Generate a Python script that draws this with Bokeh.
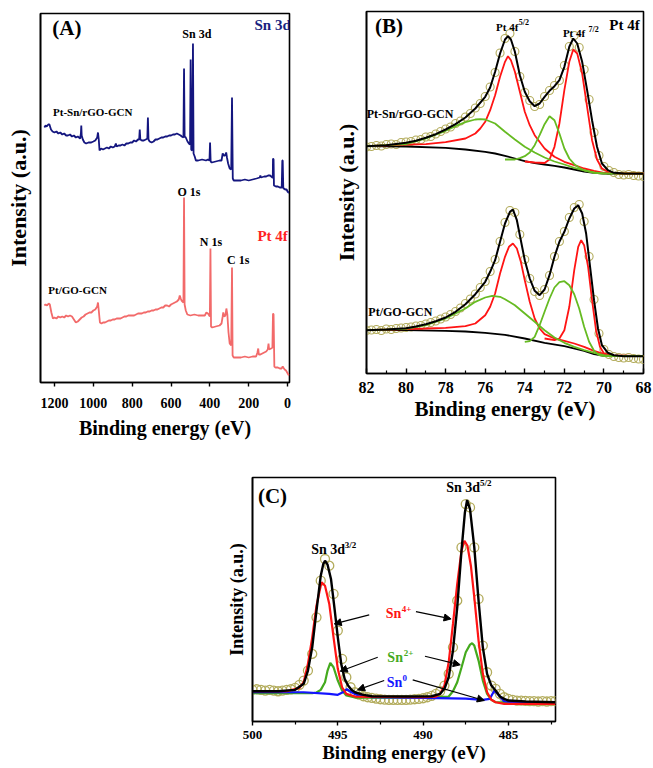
from bokeh.plotting import figure
from bokeh.models import Range1d, FixedTicker, Label, Arrow, NormalHead, Spacer
from bokeh.layouts import row, column
from bokeh.embed import file_html
from bokeh.resources import INLINE

FONT = "Liberation Serif"

# ---------------- Panel A: survey spectra (binding energy eV, intensity a.u.) ----------------
survey_ptsn = [(1252,255),(1246,257),(1240,256),(1232,258),(1226,258),(1218,253),(1210,251),(1200,250),(1190,251),(1180,249),
 (1170,250),(1160,248),(1150,249),(1140,247),(1131,247),(1120,248),(1110,246),(1100,247),(1090,245),(1080,246),(1068,244),
 (1064,249),(1062,257),(1060,247),(1054,243),(1046,240),(1037,239),(1025,240),(1011,240),(1000,241),(990,242),(980,245),
 (976,250),(972,243),(968,232),(960,234),(950,233),(940,234),(930,235),(920,234),(910,236),(900,235),(890,236),(884,239),
 (880,236),(870,237),(860,237),(850,238),(840,237),(830,239),(820,239),(810,240),(800,240),(790,242),(780,241),(770,243),
 (764,243),(761,253),(758,243),(750,242),(740,242),(730,243),(722,244),(719,265),(716,243),(710,241),(700,240),(690,241),
 (680,243),(670,243),(660,244),(650,245),(640,245),(630,246),(620,246),(610,247),(600,247),(590,248),(580,248),(570,249),
 (560,248),(550,247),(545,246),(536,245),(533,314),(530,246),(524,245),(515,241),(508,239),(502,238),(499,323),(496,233),
 (491,232),(487,339),(484,229),(478,226),(472,222),(460,222),(440,223),(420,222),(410,223),(402,222),(399,240),(396,221),
 (390,220),(370,221),(350,222),(340,222),(334,229),(328,227),(322,227),(316,230),(312,225),(306,219),(298,214),(290,213),
 (286,285),(282,204),(277,202),(260,202),(240,202),(220,203),(200,202),(180,203),(160,204),(143,205),(140,207),(137,205),
 (120,206),(110,206),(100,207),(90,207),(84,206),(78,205),(76,205),(75,224),(72,223),(70,197),(60,196),(50,196),(40,195),
 (30,195),(27,222),(25,222),(22,194),(18,194),(12,193),(5,193),(0,191),(-5,190),(-7,190)]

survey_ptgo = [(1252,77),(1246,78),(1238,77),(1230,79),(1224,78),(1216,70),(1208,64),(1200,65),(1190,64),(1180,66),(1170,65),
 (1160,66),(1150,65),(1140,67),(1130,66),(1120,67),(1110,66),(1100,63),(1090,60),(1080,61),(1070,63),(1060,65),(1050,66),
 (1040,68),(1030,69),(1020,70),(1010,70),(1000,72),(990,73),(980,76),(976,80),(972,72),(966,60),(958,59),(950,60),(940,60),
 (930,61),(920,62),(910,62),(900,63),(890,63),(880,64),(870,64),(860,64),(850,65),(840,66),(830,66),(820,67),(810,67),
 (800,67),(790,67),(780,68),(770,69),(760,69),(750,69),(740,70),(730,70),(720,71),(710,71),(700,72),(690,72),(680,73),
 (670,73),(660,74),(650,75),(640,75),(630,77),(620,77),(610,76),(600,78),(590,79),(580,80),(570,81),(560,83),(555,87),
 (550,84),(546,82),(536,80),(533,185),(530,78),(524,72),(516,68),(500,67),(480,68),(460,67),(440,67),(426,67),(418,70),
 (410,69),(400,66),(397,134),(394,56),(388,55),(370,56),(350,57),(340,59),(334,66),(331,70),(326,66),(320,67),(315,74),
 (310,68),(304,50),(298,39),(290,37),(286,115),(283,27),(277,25),(260,25),(240,25),(220,26),(200,25),(180,26),(162,26),
 (155,30),(151,34),(148,28),(140,28),(130,29),(120,30),(110,31),(102,33),(98,39),(95,33),(85,34),(78,35),(75,69),(72,68),
 (68,16),(62,15),(50,15),(40,14),(31,14),(25,16),(22,15),(15,13),(8,12),(2,10),(-4,8),(-7,7)]

survey_ticks = [0, 200, 400, 600, 800, 1000, 1200]

# ---------------- Panel B: Pt 4f ----------------
ptsn_data = [(82,226.5),(81.75,227),(81.5,228),(81.25,227.5),(81,229),(80.75,229.5),(80.5,229),(80.25,231),(80,231.5),
 (79.75,232),(79.5,233.5),(79.25,234),(79,236.5),(78.75,237),(78.5,239.5),(78.25,242),(78,244.5),(77.75,246.5),(77.5,250),
 (77.25,252.5),(77,256.5),(76.75,260),(76.5,265.5),(76.25,270),(76,277),(75.75,286.5),(75.5,301),(75.25,320.5),(75,335),
 (74.75,340),(74.5,322),(74.25,297),(74,281),(73.75,273),(73.5,267),(73.25,269),(73,277),(72.75,283),(72.5,288),(72.25,293),
 (72,308),(71.75,327),(71.5,338),(71.25,326),(71,304),(70.75,274),(70.5,241),(70.25,218),(70,207),(69.75,203),(69.5,201),
 (69.25,199),(69,198.5),(68.75,199),(68.5,198),(68.25,197.5),(68,197)]
ptsn_env = [(82,227.3),(81,228.3),(80,230.7),(79.5,232.7),(79,235.7),(78.5,239.3),(78,244),(77.5,249.3),(77,256),(76.5,265),
 (76,276.7),(75.75,286),(75.5,301.7),(75.25,320),(75,334),(74.85,337.3),(74.7,334),(74.5,321.7),(74.25,298.3),(74,281.7),
 (73.75,272.3),(73.5,267.3),(73.25,270),(73,276.7),(72.75,282.7),(72.5,287.3),(72.25,293.3),(72,306.7),(71.75,326.7),
 (71.55,335),(71.35,330),(71.1,311.7),(70.85,283.3),(70.6,253.3),(70.35,226.7),(70.1,210),(69.8,203.3),(69.5,200.7),
 (69,200),(68,199.7)]
ptsn_bg = [(82,227.3),(80,227),(78,225.7),(77,224),(76,221.7),(75.5,220),(75,217.7),(74.5,215),(74,212.3),(73.5,210.3),
 (73,209),(72.5,207.7),(72,206),(71.5,204),(71,202),(70.5,200.7),(70,200),(68,200)]
ptsn_red1 = [(82,227.3),(80,229),(79,229.3),(78,231.3),(77,235),(76.5,240),(76.25,245),(76,251.7),(75.75,263.3),(75.5,278.3),
 (75.25,296.7),(75,311.7),(74.85,317.3),(74.7,313.3),(74.5,301.7),(74.25,281.7),(74,261.7),(73.75,248.3),(73.5,238.3),
 (73,225),(72.5,216.7),(72,211.7),(71.5,208.3),(71,205),(70.5,202.7),(70,200.7),(69,200),(68,200)]
ptsn_red2 = [(74,212),(73.5,211),(73,210.5),(72.75,214),(72.5,226.7),(72.25,250),(72,283.3),(71.75,311.7),(71.55,324),
 (71.35,320),(71.1,300),(70.85,266.7),(70.6,233.3),(70.35,214),(70.1,205),(69.8,201.7),(69.5,200.3),(69,200),(68,200)]
ptsn_green1 = [(82,227.3),(80,229.3),(79,235),(78,242.7),(77.5,247.3),(77,251.3),(76.5,254),(76.25,254.3),(76,254),(75.5,250),
 (75,241.7),(74.5,234),(74,226.7),(73.5,221),(73,216),(72.5,212),(72,209),(71.5,205.7),(71,203),(70.5,201),(70,200),(68,200)]
ptsn_green2 = [(75,214),(74.5,214),(74.25,215.3),(74,217.3),(73.75,221),(73.5,228.3),(73.25,238.3),(73,249.3),(72.75,257.3),
 (72.5,253.3),(72.25,240),(72,225),(71.75,215),(71.5,209.3),(71.25,205.7),(71,203.3),(70.5,200.7),(70,200)]

ptgo_data = [(82,43),(81.75,43.5),(81.5,44),(81.25,43),(81,44.5),(80.75,44),(80.5,45),(80.25,45.5),(80,46),(79.75,46.5),
 (79.5,47.5),(79.25,48),(79,49.5),(78.75,51),(78.5,52.5),(78.25,54.5),(78,56.5),(77.75,59),(77.5,62),(77.25,65.5),(77,70),
 (76.75,74.5),(76.5,79.5),(76.25,86),(76,92),(75.75,102),(75.5,114),(75.25,132),(75,151),(74.75,163),(74.5,161),(74.25,139),
 (74,114),(73.75,95),(73.5,82),(73.25,78),(73,84),(72.75,98),(72.5,117),(72.25,132),(72,142),(71.75,156),(71.5,166),
 (71.25,169),(71,152),(70.75,117),(70.5,74),(70.25,40),(70,24),(69.75,19),(69.5,17),(69.25,16),(69,15.5),(68.75,16),
 (68.5,15),(68.25,14.5),(68,14)]
ptgo_env = [(82,43.3),(81,44),(80,45.3),(79.5,47),(79,49.3),(78.5,52.3),(78,56),(77.5,61.7),(77,69.3),(76.5,79.3),(76,91.7),
 (75.75,101.7),(75.5,113.3),(75.25,131.7),(75,150),(74.75,161.7),(74.6,164),(74.4,153.3),(74.2,133.3),(74,113.3),(73.75,95),
 (73.5,82.7),(73.25,78.3),(73,84),(72.75,98.3),(72.5,116.7),(72.25,131.7),(72,141.7),(71.75,155),(71.5,165),(71.3,168.3),
 (71.1,160),(70.9,140),(70.7,106.7),(70.5,73.3),(70.3,45),(70.1,28.3),(69.8,20.7),(69.5,18.3),(69,17.3),(68,17.3)]
ptgo_bg = [(82,43.3),(80,43.3),(78,42.7),(77,42),(76,40.7),(75,38.7),(74,35),(73,30.7),(72,27.3),(71,22.7),(70.5,19.3),
 (70,17.7),(68,17.3)]
ptgo_red1 = [(82,43.3),(79,45),(78,45.7),(77,47.3),(76.5,50),(76,58.3),(75.75,66.7),(75.5,80),(75.25,100),(75,116.7),
 (74.8,126.7),(74.6,130),(74.4,125),(74.2,111.7),(74,93.3),(73.75,71.7),(73.5,55),(73.25,45),(73,39.3),(72.5,35),(72,32.7),
 (71.5,30),(71,26.7),(70.5,22.7),(70,19.3),(69.5,18),(68,17.3)]
ptgo_red2 = [(73,35),(72.5,33.3),(72.25,35),(72,43.3),(71.75,66.7),(71.5,103.3),(71.3,126.7),(71.15,133.3),(71,128.3),
 (70.8,106.7),(70.6,73.3),(70.4,43.3),(70.2,26.7),(70,20),(69.5,17.7),(68,17.3)]
ptgo_green1 = [(82,43.3),(80,44.7),(79,48.3),(78,55),(77.5,60),(77,65),(76.5,71.7),(76,76),(75.65,77.7),(75.25,76.7),
 (75,74.3),(74.5,68.3),(74,60),(73.5,51.7),(73,43.3),(72.5,36),(72,30.7),(71.5,26.7),(71,23.3),(70.5,20.7),(70,18.3),
 (69.5,17.3),(68,17.3)]
ptgo_green2 = [(74,31.7),(73.75,32.3),(73.5,36.7),(73.25,48.3),(73,61.7),(72.75,75),(72.5,86),(72.25,91.3),(72,92.3),
 (71.75,88.3),(71.5,79.3),(71.25,65),(71,46.7),(70.75,31.7),(70.5,22.7),(70.25,18.3),(70,17.3),(68,17.3)]

pt4f_ticks = [68, 70, 72, 74, 76, 78, 80, 82]
pt4f_minor = [69, 71, 73, 75, 77, 79, 81]

# ---------------- Panel C: Sn 3d ----------------
sn_data = [(500,31.7),(499.75,32.3),(499.5,31.7),(499.25,31),(499,31.7),(498.75,31),(498.5,30.3),(498.25,31),(498,31.7),
 (497.75,32.3),(497.5,33.7),(497.25,36.7),(497,41),(496.75,51),(496.5,67.7),(496.25,104.3),(496,141),(495.75,162.7),
 (495.5,156),(495.25,127.7),(495,91),(494.75,62.7),(494.5,44.3),(494.25,34.3),(494,29.3),(493.75,27),(493.5,25.3),
 (493.25,24.3),(493,23.7),(492.75,23),(492.5,22.3),(492.25,22),(492,21.7),(491.75,21.7),(491.5,21.7),(491.25,21.7),
 (491,21.7),(490.75,22),(490.5,22.3),(490.25,22.7),(490,23.3),(489.75,24.3),(489.5,25.7),(489.25,27.7),(489,30.3),
 (488.75,36),(488.5,47.7),(488.25,74.3),(488,121),(487.75,174.3),(487.5,217.7),(487.25,214.3),(487,174.3),(486.75,122.7),
 (486.5,76),(486.25,49.3),(486,36),(485.75,32.7),(485.5,27.7),(485.25,24.3),(485,22.7),(484.75,21.7),(484.5,21),
 (484.25,21),(484,20.7),(483.75,20.3),(483.5,20.3),(483.25,20),(483,20.3),(482.75,20),(482.5,20.3),(482.25,20.3)]
sn_env = [(500,30.3),(498.5,30.3),(497.5,31.7),(497,37.7),(496.75,51),(496.5,74.3),(496.25,111),(496,146),(495.85,157.7),
 (495.75,161),(495.6,157),(495.4,142.7),(495.2,114.3),(495,84.3),(494.8,57.7),(494.6,42.7),(494.4,36),(494.2,31.7),
 (494,29.3),(493.5,26.7),(493,25.3),(491,25),(489.5,25.3),(489,27.7),(488.75,32.7),(488.5,44.3),(488.25,71),(488,114.3),
 (487.75,171),(487.55,209.3),(487.42,221.7),(487.25,212.7),(487,174.3),(486.75,121),(486.5,74.3),(486.25,47.7),(486,36),
 (485.75,31),(485.5,25),(485.25,22.7),(485,21),(484,20),(482.25,19.3)]
sn4_fit = [(500,30.3),(498,30.3),(497.25,33.7),(497,39.3),(496.75,57.7),(496.5,84.3),(496.25,116),(496,136),(495.95,139.3),
 (495.75,136),(495.5,117.7),(495.25,84.3),(495,52.7),(494.75,34.3),(494.5,27.7),(494,25),(490,24.3),(489.25,25),(489,27.7),
 (488.75,36),(488.5,59.3),(488.25,97.7),(488,137.7),(487.75,171),(487.58,181),(487.4,176),(487.2,156),(487,124.3),
 (486.75,81),(486.5,47.7),(486.25,29.3),(486,21.7),(485.75,19.3),(485.25,17.7),(482.25,17.7)]
sn2_fit = [(500,28.3),(496.5,28.3),(496.25,29),(496,31.7),(495.75,39.3),(495.6,51),(495.44,58.7),(495.25,54.3),(495,41),
 (494.75,31),(494.5,26),(494,24),(490,23.7),(488.5,25),(488.25,30.3),(488,39.3),(487.75,54),(487.5,69.3),(487.25,77),
 (487.13,78.3),(487,76),(486.75,61),(486.5,41),(486.25,27.7),(486,21.7),(485.75,19.3),(482.25,18.7)]
sn0_fit = [(500,29.3),(497,29.3),(495.5,27.7),(495,26.7),(494.7,29.3),(494.47,32.3),(494.2,29.3),(493.8,26),(493,24.3),
 (490,23.7),(487.5,23),(486.5,21.7),(486.1,22.7),(485.82,31),(485.55,26),(485.25,20.3),(484.5,18.7),(482.25,18.3)]

sn3d_ticks = [485, 490, 495, 500]
sn3d_minor = [482.5, 487.5, 492.5, 497.5]


def pts(series):
    return [a for a, b in series], [b for a, b in series]


def make_fig(w, h, xr, yr, mb):
    p = figure(width=w, height=h, x_range=Range1d(*xr), y_range=Range1d(*yr),
               output_backend="svg", toolbar_location=None,
               min_border_left=mb[0], min_border_right=mb[1],
               min_border_top=mb[2], min_border_bottom=mb[3])
    p.frame_align = False
    p.grid.visible = False
    p.outline_line_color = "black"
    p.outline_line_width = 1.6
    p.outline_line_alpha = 1.0
    p.background_fill_color = "white"
    p.border_fill_color = "white"
    return p


def style_axes(p, ticks, minor, tick_size, xlab_size, ylab_size, tick_in, tick_out,
               minor_in, minor_out, tick_standoff, xlab_standoff, ylab_standoff):
    xa = p.xaxis[0]
    xa.ticker = FixedTicker(ticks=ticks, minor_ticks=minor)
    xa.axis_label = "Binding energy (eV)"
    xa.axis_label_text_font = FONT
    xa.axis_label_text_font_style = "bold"
    xa.axis_label_text_font_size = xlab_size
    xa.axis_label_text_color = "black"
    xa.axis_label_standoff = xlab_standoff
    xa.major_label_text_font = FONT
    xa.major_label_text_font_style = "bold"
    xa.major_label_text_font_size = tick_size
    xa.major_label_text_color = "black"
    xa.major_label_standoff = tick_standoff
    xa.major_tick_in = tick_in
    xa.major_tick_out = tick_out
    xa.minor_tick_in = minor_in
    xa.minor_tick_out = minor_out
    xa.axis_line_width = 1.6
    xa.major_tick_line_width = 1.4
    xa.minor_tick_line_width = 1.2
    ya = p.yaxis[0]
    ya.ticker = FixedTicker(ticks=[], minor_ticks=[])
    ya.axis_label = "Intensity (a.u.)"
    ya.axis_label_text_font = FONT
    ya.axis_label_text_font_style = "bold"
    ya.axis_label_text_font_size = ylab_size
    ya.axis_label_text_color = "black"
    ya.axis_label_standoff = ylab_standoff
    ya.major_label_standoff = 0
    ya.major_tick_in = 0
    ya.major_tick_out = 0
    ya.minor_tick_in = 0
    ya.minor_tick_out = 0
    ya.axis_line_width = 1.6


def label(p, x, y, text, size, color="black", align="center"):
    p.add_layout(Label(x=x, y=y, text=text, text_font=FONT, text_font_size=size,
                       text_font_style="bold", text_color=color, text_align=align,
                       text_baseline="middle"))


# ---------------- Figure A ----------------
pA = make_fig(330, 453, (1272, -10), (0, 369), (40, 41, 13, 71))
style_axes(pA, survey_ticks, [], "14px", "20px", "22px", 0, 4, 0, 0, 11, 6, 10)
x, y = pts(survey_ptsn)
pA.line(x, y, line_color="#14167f", line_width=1.8)
x, y = pts(survey_ptgo)
pA.line(x, y, line_color="#f26a6a", line_width=1.8)
label(pA, 1136, 355, "(A)", "21px")
label(pA, 77, 358, "Sn 3d", "15px", "#1a1f80")
label(pA, 467, 349, "Sn 3d", "12px")
label(pA, 1003, 271, "Pt-Sn/rGO-GCN", "11px")
label(pA, 508, 191, "O 1s", "12px")
label(pA, 394, 141, "N 1s", "12px")
label(pA, 77, 147, "Pt 4f", "15px", "#ff2222")
label(pA, 254, 123, "C 1s", "12px")
label(pA, 1081, 93, "Pt/GO-GCN", "11px")

# ---------------- Figure B ----------------
pB = make_fig(323, 453, (82, 68), (0, 362), (36, 10, 11, 80))
style_axes(pB, pt4f_ticks, pt4f_minor, "16px", "21px", "22px", 5, 0, 3, 0, 8, 1, 8)
RED_B = "#ff1414"
GREEN_B = "#66bb22"
for data in (ptsn_data, ptgo_data):
    x, y = pts(data)
    pB.scatter(x, y, marker="circle", size=8, fill_color=None, line_color="#b3ac5c", line_width=1.1)
for bg in (ptsn_bg, ptgo_bg):
    x, y = pts(bg)
    pB.line(x, y, line_color="black", line_width=1.8)
for r in (ptsn_red1, ptsn_red2, ptgo_red1, ptgo_red2):
    x, y = pts(r)
    pB.line(x, y, line_color=RED_B, line_width=1.8)
for g in (ptsn_green1, ptsn_green2, ptgo_green1, ptgo_green2):
    x, y = pts(g)
    pB.line(x, y, line_color=GREEN_B, line_width=1.8)
for env in (ptsn_env, ptgo_env):
    x, y = pts(env)
    pB.line(x, y, line_color="black", line_width=2.0)
label(pB, 80.86, 348, "(B)", "21px")
label(pB, 68.96, 349, "Pt 4f", "15px")
label(pB, 74.89, 347, "Pt 4f", "11px")
label(pB, 74.05, 351, "5/2", "8px")
label(pB, 71.51, 341, "Pt 4f", "11px")
label(pB, 70.52, 344, "7/2", "8px")
label(pB, 79.8, 260, "Pt-Sn/rGO-GCN", "12px")
label(pB, 80.29, 62, "Pt/GO-GCN", "12px")

# ---------------- Figure C ----------------
pC = make_fig(357, 315, (500, 482.24), (0, 244.3), (44, 10, 24, 47))
style_axes(pC, sn3d_ticks, sn3d_minor, "13px", "19px", "18px", 0, 4, 0, 3, 5, 0, 6)
x, y = pts(sn_data)
pC.scatter(x, y, marker="circle", size=9, fill_color=None, line_color="#b3ac5c", line_width=1.3)
x, y = pts(sn2_fit)
pC.line(x, y, line_color="#44aa1e", line_width=2.2)
x, y = pts(sn0_fit)
pC.line(x, y, line_color="#1414ff", line_width=2.2)
x, y = pts(sn4_fit)
pC.line(x, y, line_color="#ff1414", line_width=2.2)
x, y = pts(sn_env)
pC.line(x, y, line_color="black", line_width=2.4)
label(pC, 498.83, 226, "(C)", "21px")
label(pC, 495.57, 172, "Sn 3d", "14px")
label(pC, 494.26, 177, "3/2", "9px")
label(pC, 487.65, 234, "Sn 3d", "14px")
label(pC, 486.33, 239, "5/2", "9px")
label(pC, 491.74, 108, "Sn", "14px", "#ff1414")
label(pC, 490.97, 113, "4+", "9px", "#ff1414")
label(pC, 491.64, 64, "Sn", "14px", "#44aa1e")
label(pC, 490.85, 69, "2+", "9px", "#44aa1e")
label(pC, 491.67, 39, "Sn", "14px", "#1414ff")
label(pC, 491.08, 44, "0", "9px", "#1414ff")
for xs, ys, xe, ye in [(493.16, 106.7, 495.21, 97.7), (490.42, 110, 488.36, 102.7),
                       (492.66, 64.3, 494.86, 50.3), (489.89, 65.3, 487.82, 56.7),
                       (492.28, 41, 493.84, 31.7), (490.61, 41.7, 486.41, 21)]:
    pC.add_layout(Arrow(end=NormalHead(size=7, fill_color="black", line_color="black", line_width=1),
                        x_start=xs, y_start=ys, x_end=xe, y_end=ye,
                        line_color="black", line_width=1.2))

layout = column(row(pA, pB), row(Spacer(width=208, height=315), pC))
open("out.html", "w").write(file_html(layout, INLINE, "XPS spectra"))
